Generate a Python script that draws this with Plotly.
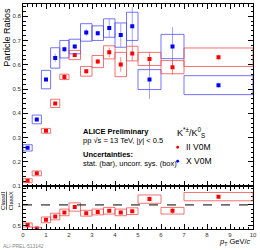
import plotly.graph_objects as go

# ---- data ----
pt = [0.2, 0.6, 1.0, 1.4, 1.8, 2.25, 2.75, 3.25, 3.75, 4.25, 4.75, 5.5, 6.5, 8.5]
pt_halfwidth = [0.2, 0.2, 0.2, 0.2, 0.2, 0.25, 0.25, 0.25, 0.25, 0.25, 0.25, 0.5, 0.5, 1.5]

ratio_x = [0.258, 0.375, 0.539, 0.628, 0.664, 0.675, 0.733, 0.730, 0.751, 0.722, 0.758, 0.539, 0.675, 0.516]
stat_x = [0.005, 0.006, 0.008, 0.017, 0.010, 0.010, 0.015, 0.010, 0.037, 0.048, 0.080, 0.080, 0.080, 0.010]
sys_x = [0.013, 0.018, 0.038, 0.042, 0.036, 0.030, 0.036, 0.030, 0.038, 0.050, 0.058, 0.041, 0.050, 0.039]

ratio_ii = [0.123, 0.153, 0.328, 0.441, 0.550, 0.640, 0.573, 0.613, 0.651, 0.601, 0.646, 0.624, 0.590, 0.631]
stat_ii = [0.003, 0.004, 0.005, 0.006, 0.012, 0.008, 0.010, 0.010, 0.020, 0.030, 0.030, 0.027, 0.030, 0.010]
sys_ii = [0.008, 0.010, 0.010, 0.017, 0.011, 0.019, 0.020, 0.025, 0.027, 0.050, 0.030, 0.027, 0.027, 0.038]

dr = [0.517, 0.43, 0.64, 0.72, 0.82, 0.95, 0.80, 0.83, 0.86, 0.82, 0.85, 1.14, 0.86, 1.20]
dr_stat = [0.02, 0.02, 0.03, 0.03, 0.03, 0.04, 0.03, 0.03, 0.03, 0.04, 0.04, 0.06, 0.07, 0.02]
dr_sys = [0.05, 0.03, 0.07, 0.08, 0.08, 0.10, 0.07, 0.07, 0.08, 0.08, 0.08, 0.10, 0.08, 0.10]

top_ticks = [0.1, 0.2, 0.3, 0.4, 0.5, 0.6, 0.7, 0.8]
bot_ticks = [0.5, 1.0]
x_ticks = [0, 1, 2, 3, 4, 5, 6, 7, 8, 9, 10]

RED = "rgb(255,0,0)"
BLUE = "rgb(0,0,255)"
RED_BOX = "rgba(240,70,70,0.75)"
BLUE_BOX = "rgba(70,70,255,0.75)"
RED_BAR = "rgba(255,80,80,0.7)"
BLUE_BAR = "rgba(90,90,255,0.55)"
FONT = "Liberation Sans"

fig = go.Figure()
shapes = []


def add_series(y, st, sy, col, boxcol, barcol, xa, ya):
    for xc, hw, yc, s in zip(pt, pt_halfwidth, y, sy):
        shapes.append(dict(type="rect", xref=xa, yref=ya, x0=xc - hw, x1=xc + hw,
                           y0=yc - s, y1=yc + s, line=dict(color=boxcol, width=1),
                           fillcolor="rgba(0,0,0,0)", layer="above"))
    fig.add_trace(go.Scatter(x=pt, y=y, mode="markers", xaxis=xa, yaxis=ya,
                             marker=dict(color=col, size=4, symbol="square"),
                             error_y=dict(type="data", array=st, color=barcol,
                                          thickness=1, width=0),
                             showlegend=False))


add_series(ratio_x, stat_x, sys_x, BLUE, BLUE_BOX, BLUE_BAR, "x", "y")
add_series(ratio_ii, stat_ii, sys_ii, RED, RED_BOX, RED_BAR, "x", "y")
add_series(dr, dr_stat, dr_sys, RED, RED_BOX, RED_BAR, "x2", "y2")

shapes.append(dict(type="line", xref="x2", yref="y2", x0=0, x1=10, y0=1, y1=1,
                   line=dict(color="black", width=1, dash="dash")))


def px(x):
    return (x - 23) / 232


def py(y):
    return (229 - y) / 226


# legend markers
shapes.append(dict(type="circle", xref="paper", yref="paper",
                   x0=px(177.5), x1=px(180.5), y0=py(148.5), y1=py(145.5),
                   fillcolor=RED, line=dict(width=0)))
shapes.append(dict(type="circle", xref="paper", yref="paper",
                   x0=px(177.5), x1=px(180.5), y0=py(162.5), y1=py(159.5),
                   fillcolor=BLUE, line=dict(width=0)))

axis_common = dict(showline=True, linecolor="black", linewidth=1, mirror="ticks",
                   ticks="inside", ticklen=5, tickcolor="black",
                   showgrid=False, zeroline=False,
                   tickfont=dict(family=FONT, size=6, color="#333"))

annotations = [
    dict(text="<b>ALICE Preliminary</b>", x=px(81), y=py(131), size=7.5),
    dict(text="pp √s = 13 TeV, |<i>y</i>| < 0.5", x=px(81), y=py(140.5), size=7.5),
    dict(text="<b>Uncertainties:</b>", x=px(81), y=py(154.5), size=7.5),
    dict(text="stat. (bar), uncorr. sys. (box)", x=px(81), y=py(163.5), size=7.5),
    dict(text="K<sup>*±</sup>/K<sup>0</sup><sub>S</sub>", x=px(176), y=py(132), size=9),
    dict(text="II V0M", x=px(185), y=py(147), size=8.5),
    dict(text="X V0M", x=px(185), y=py(161), size=8.5),
]
ann = []
for a in annotations:
    ann.append(dict(text=a["text"], x=a["x"], y=a["y"], xref="paper", yref="paper",
                    xanchor="left", yanchor="middle", showarrow=False,
                    font=dict(family=FONT, size=a["size"], color="black")))

ann.append(dict(text="Particle Ratios", x=px(7), y=py(5), xref="paper", yref="paper",
                xanchor="center", yanchor="top", textangle=-90, showarrow=False,
                font=dict(family=FONT, size=9, color="black")))
ann.append(dict(text="<u>ClassII</u><br>ClassX", x=px(7), y=py(201), xref="paper",
                yref="paper", xanchor="center", yanchor="middle", textangle=-90,
                showarrow=False, font=dict(family=FONT, size=6, color="black")))
ann.append(dict(text="<i>p</i><sub>T</sub> GeV/<i>c</i>", x=1.0, y=py(242.5),
                xref="paper", yref="paper", xanchor="right", yanchor="middle",
                showarrow=False, font=dict(family=FONT, size=7.5, color="black")))
ann.append(dict(text="ALI-PREL-513142", x=px(1), y=py(246), xref="paper", yref="paper",
                xanchor="left", yanchor="middle", showarrow=False,
                font=dict(family=FONT, size=5, color="#888")))

fig.update_layout(
    width=260, height=250,
    margin=dict(l=23, r=5, t=3, b=21),
    paper_bgcolor="white", plot_bgcolor="white",
    xaxis=dict(domain=[0, 1], anchor="y", range=[0, 10], tickvals=x_ticks,
               showticklabels=False,
               minor=dict(dtick=0.2, ticks="inside", ticklen=2.5, tickcolor="black"),
               **axis_common),
    yaxis=dict(domain=[0.19, 1], anchor="x", range=[0.1, 0.85], tickvals=top_ticks,
               ticktext=[f"{v:.1f}" for v in top_ticks],
               minor=dict(dtick=0.02, ticks="inside", ticklen=2.5, tickcolor="black"),
               **axis_common),
    xaxis2=dict(domain=[0, 1], anchor="y2", range=[0, 10], matches="x", tickvals=x_ticks,
                ticktext=[str(v) for v in x_ticks],
                minor=dict(dtick=0.2, ticks="inside", ticklen=2.5, tickcolor="black"),
                **axis_common),
    yaxis2=dict(domain=[0, 0.19], anchor="x2", range=[0.42, 1.45], tickvals=bot_ticks,
                ticktext=["0.5", "1"],
                minor=dict(dtick=0.1, ticks="inside", ticklen=2.5, tickcolor="black"),
                **axis_common),
    shapes=shapes,
    annotations=ann,
)

fig.write_html("out.html", config={"displayModeBar": False},
               post_script="document.body.style.margin='0px';")
